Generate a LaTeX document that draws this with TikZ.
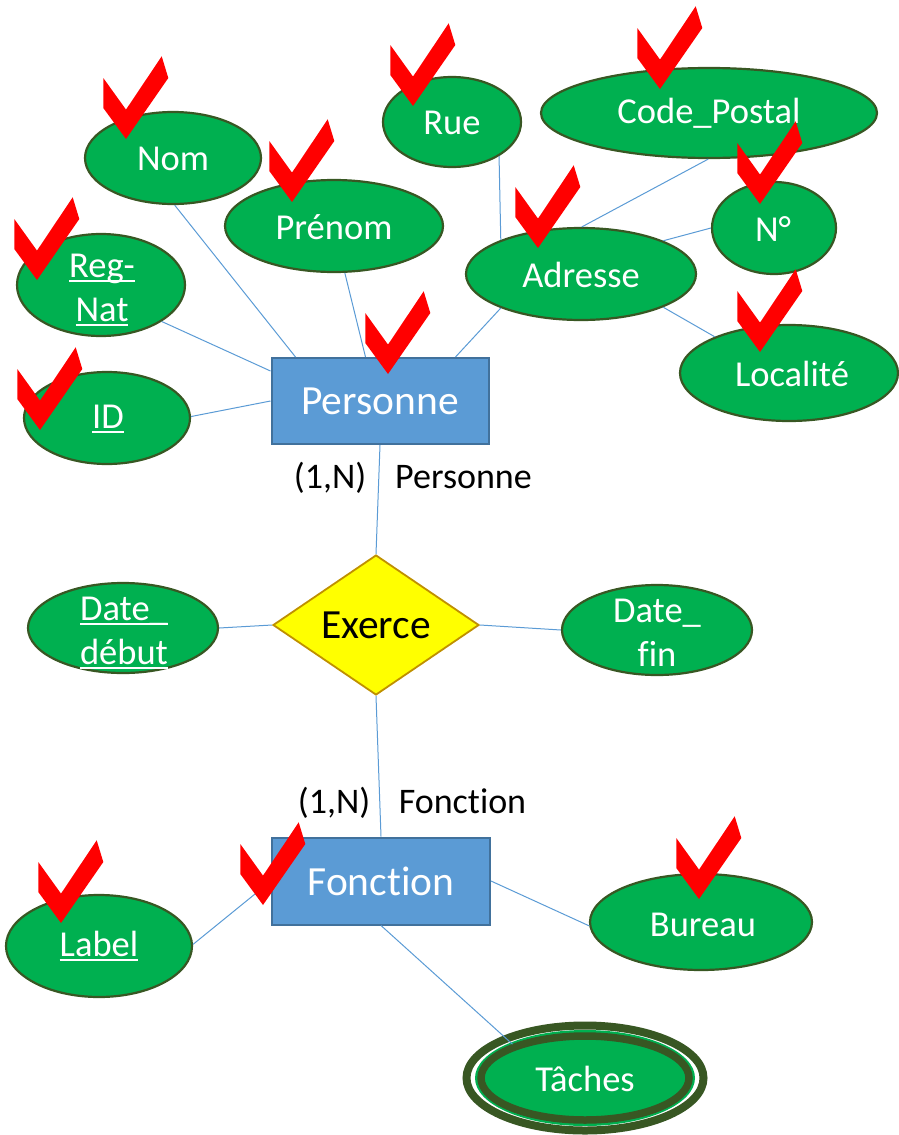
\documentclass[tikz,border=0pt]{standalone}
\usepackage{fontspec}
\setmainfont{Carlito}[Ligatures=NoCommon]
\usetikzlibrary{shapes.geometric,calc}
\definecolor{egreen}{HTML}{00B050}
\definecolor{edark}{HTML}{385723}
\definecolor{bfill}{HTML}{5B9BD5}
\definecolor{bdraw}{HTML}{41719C}
\definecolor{yfill}{HTML}{FFFF00}
\definecolor{ydraw}{HTML}{BF9000}
\definecolor{lnk}{HTML}{5B9BD5}
\newcommand\myul[1]{\setbox0\hbox{#1}\rlap{\rule[-5pt]{\wd0}{2pt}}\box0}
\tikzset{
  attr/.style={ellipse, draw=edark, line width=2.2pt, fill=egreen, inner sep=0pt},
  atext/.style={text=white, font=\fontsize{36.5}{44}\selectfont, align=center, inner sep=0pt},
  entity/.style={rectangle, draw=bdraw, line width=2pt, fill=bfill, inner sep=0pt, text=white, font=\fontsize{41.5}{48}\selectfont},
  relat/.style={diamond, draw=ydraw, line width=1.8pt, fill=yfill, inner sep=0pt, font=\fontsize{41.5}{48}\selectfont},
  card/.style={font=\fontsize{36}{44}\selectfont, inner sep=0pt, anchor=base},
  link/.style={draw=lnk, line width=1pt},
  chk/.pic={\fill[red] (0,0) -- (-22.7,-31) -- (-22.7,-61) -- (0,-29.4) -- (35.7,-82.7) -- (42.3,-61) -- cycle;}
}
\begin{document}
\begin{tikzpicture}[x=1pt,y=-1pt]
\useasboundingbox (0,0) rectangle (898,1135);
% entities and relation
\node[entity, minimum width=217pt, minimum height=86pt] (pers) at (380,401) {Personne};
\node[entity, minimum width=218pt, minimum height=87pt] (fonc) at (381,881) {Fonction};
\node[relat, minimum width=206pt, minimum height=140pt] (ex) at (376,625) {Exerce};
% attributes
\node[attr, minimum width=176pt, minimum height=92pt] (nom) at (173,158) {};
\node[attr, minimum width=138pt, minimum height=90pt] (rue) at (452,122) {};
\node[attr, minimum width=336pt, minimum height=90pt] (cp) at (709,113) {};
\node[attr, minimum width=218pt, minimum height=92pt] (pren) at (334,226) {};
\node[attr, minimum width=124pt, minimum height=92pt] (no) at (774,228) {};
\node[attr, minimum width=230pt, minimum height=92pt] (adr) at (581,274) {};
\node[attr, minimum width=168pt, minimum height=102pt] (reg) at (101,285) {};
\node[attr, minimum width=218pt, minimum height=96pt] (loc) at (789,373) {};
\node[attr, minimum width=166pt, minimum height=92pt] (id) at (107,418) {};
\node[attr, minimum width=190pt, minimum height=90pt] (dd) at (123,628) {};
\node[attr, minimum width=190pt, minimum height=90pt] (df) at (657,630) {};
\node[attr, minimum width=186pt, minimum height=102pt] (lab) at (99,946) {};
\node[attr, minimum width=222pt, minimum height=96pt] (bur) at (701,922) {};
% double ellipse Taches
\draw[edark, line width=8pt, fill=white] (585,1078) ellipse [x radius=118.5pt, y radius=52.5pt];
\fill[egreen] (585,1078) ellipse [x radius=110pt, y radius=48pt];
\node[ellipse, draw=edark, line width=7.5pt, fill=egreen, inner sep=0pt, minimum width=208pt, minimum height=84pt] (tach) at (585,1078) {};
% texts
\node[atext] (nomT) at (173,159) {Nom};
\node[atext] (rueT) at (452,123) {Rue};
\node[atext] (cpT) at (709,113) {Code\_Postal};
\node[atext] (prenT) at (334,227) {Prénom};
\node[atext] (noT) at (773,229) {N°};
\node[atext] (adrT) at (581,275) {Adresse};
\node[atext] (regT) at (102,290) {\myul{Reg-}\\\myul{Nat}};
\node[atext] (locT) at (792,374) {Localité};
\node[atext] (idT) at (108,419) {\myul{ID}};
\node[atext] (ddT) at (124,633) {\myul{Date\_}\\\myul{début}};
\node[atext] (dfT) at (657,633) {Date\_\\fin};
\node[atext] (labT) at (99,946) {\myul{Label}};
\node[atext] (burT) at (703,925) {Bureau};
\node[atext] (tachT) at (585,1079) {Tâches};
% cardinalities
\node[card] (c1) at (330,488) {(1,N)};
\node[card] (r1) at (463.5,488) {Personne};
\node[card] (c2) at (334,813) {(1,N)};
\node[card] (r2) at (462.5,813) {Fonction};
% connectors
\draw[link] (nom.-88) -- ($(pers.north west)+(25pt,0pt)$);
\draw[link] (pren.-77) -- ($(pers.north west)+(95pt,0pt)$);
\draw[link] (adr.203) -- ($(pers.north west)+(185pt,0pt)$);
\draw[link] (reg.-31) -- ($(pers.north west)+(0pt,-14pt)$);
\draw[link] (id.1) -- (pers.west);
\draw[link] (rue.-36) -- (adr.157);
\draw[link] (cp.-91) -- (adr.89);
\draw[link] (no.180) -- (adr.22);
\draw[link] (loc.154) -- (adr.-22);
\draw[link] (pers.south) -- (ex.north);
\draw[link] (dd.0) -- (ex.west);
\draw[link] (df.180) -- (ex.east);
\draw[link] (ex.south) -- (fonc.north);
\draw[link] (lab.1) -- (fonc.west);
\draw[link] (bur.182) -- (fonc.east);
\draw[link] (fonc.south) -- (tach.155);
% check marks
\pic at (126,139) {chk};
\pic at (292,202) {chk};
\pic at (413,106) {chk};
\pic at (660,89) {chk};
\pic at (760,204) {chk};
\pic at (538,248) {chk};
\pic at (37,280) {chk};
\pic at (760,352) {chk};
\pic at (388,374) {chk};
\pic at (40,430) {chk};
\pic at (61,923) {chk};
\pic at (263,905) {chk};
\pic at (699,899) {chk};
\end{tikzpicture}
\end{document}
